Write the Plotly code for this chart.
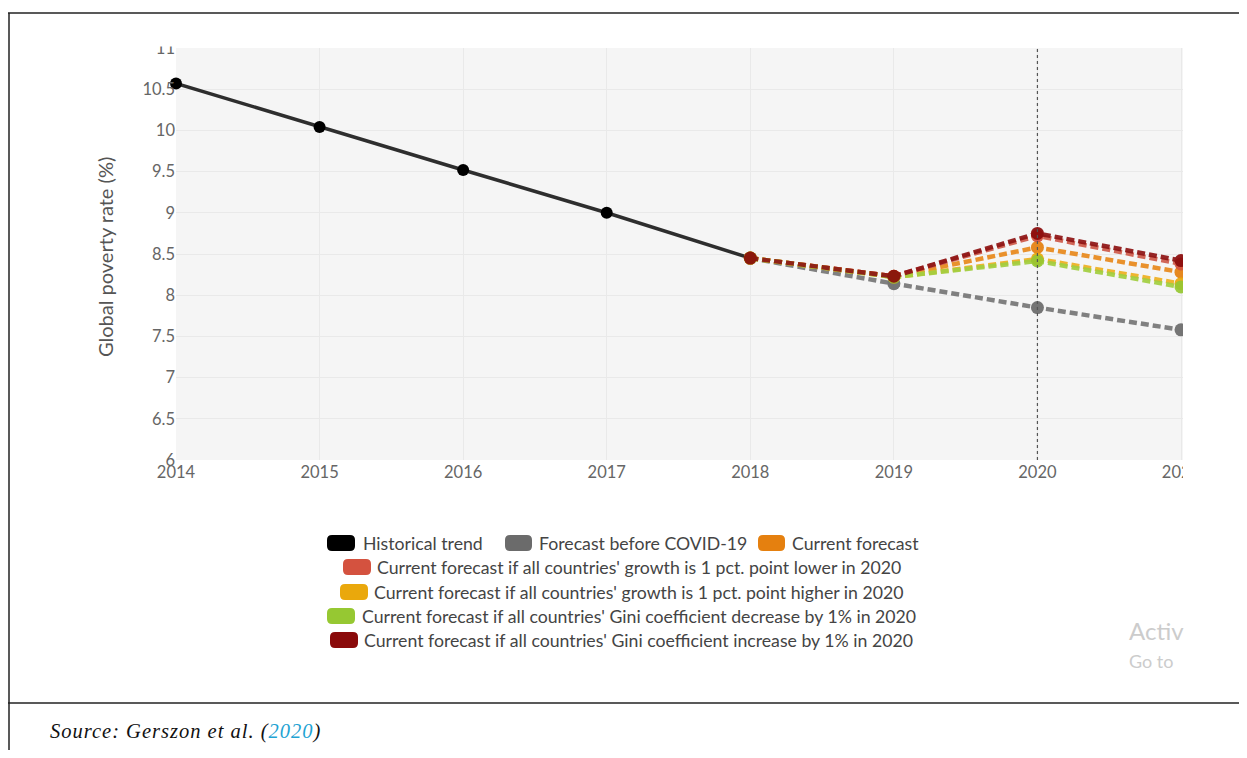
import plotly.graph_objects as go

# ---------------- data ----------------
years_hist = [2014, 2015, 2016, 2017, 2018]
hist = [10.57, 10.04, 9.52, 9.00, 8.45]

years_fc = [2018, 2019, 2020, 2021]
pre_covid = [8.45, 8.14, 7.85, 7.58]
current = [8.45, 8.23, 8.58, 8.28]
lower_growth = [8.45, 8.23, 8.72, 8.38]
higher_growth = [8.45, 8.22, 8.44, 8.14]
gini_decrease = [8.45, 8.22, 8.415, 8.10]
gini_increase = [8.45, 8.23, 8.75, 8.42]

x_ticks = [2014, 2015, 2016, 2017, 2018, 2019, 2020, 2021]
y_ticks = [6, 6.5, 7, 7.5, 8, 8.5, 9, 9.5, 10, 10.5, 11]
y_ticktext = ["6", "6.5", "7", "7.5", "8", "8.5", "9", "9.5", "10", "10.5", "11"]
marker_year = 2020

names = [
    "Historical trend",
    "Forecast before COVID-19",
    "Current forecast",
    "Current forecast if all countries' growth is 1 pct. point lower in 2020",
    "Current forecast if all countries' growth is 1 pct. point higher in 2020",
    "Current forecast if all countries' Gini coefficient decrease by 1% in 2020",
    "Current forecast if all countries' Gini coefficient increase by 1% in 2020",
]
colors = ["#000000", "#6b6b6b", "#e5800f", "#d4523f", "#eaa80c", "#96c832", "#8a0a0a"]
line_colors = ["#2e2e2e", "#777777", "#e8891c", "#cf5a4a", "#efb020", "#a2cf40", "#8e1414"]

# ---------------- geometry helpers (pixel -> paper) ----------------
W, H = 1231, 742
OFF = 8  # default body margin


def PX(X):
    return (X - OFF) / W


def PY(Y):
    return (H + OFF - Y) / H


FONT = "Lato"

fig = go.Figure()

fig.add_trace(go.Scatter(
    x=years_hist, y=hist, mode="lines+markers", name=names[0],
    line=dict(color=line_colors[0], width=3.5),
    marker=dict(color=colors[0], size=12),
    cliponaxis=False, showlegend=False,
))

series = [pre_covid, current, lower_growth, higher_growth, gini_decrease, gini_increase]
for i, s in enumerate(series, start=1):
    fig.add_trace(go.Scatter(
        x=years_fc, y=s, mode="lines+markers", name=names[i],
        line=dict(color=line_colors[i], width=4.5, dash="8px,4px"),
        marker=dict(color=colors[i], size=13),
        opacity=0.92,
        cliponaxis=False, showlegend=False,
    ))

shapes = []
annotations = []

# vertical dotted reference line
shapes.append(dict(type="line", xref="x", yref="paper", x0=marker_year, x1=marker_year,
                   y0=PY(460), y1=PY(48), line=dict(color="#555555", width=1.2, dash="dot"),
                   layer="above"))

# white masks (screenshot crop)
shapes.append(dict(type="rect", xref="paper", yref="paper", x0=PX(1183), x1=1.02,
                   y0=PY(500), y1=PY(15), fillcolor="white", line=dict(width=0), layer="above"))
shapes.append(dict(type="rect", xref="paper", yref="paper", x0=PX(120), x1=PX(175),
                   y0=PY(46.5), y1=PY(15), fillcolor="white", line=dict(width=0), layer="above"))

# frame lines
shapes.append(dict(type="line", xref="paper", yref="paper", x0=0, x1=1, y0=PY(13), y1=PY(13),
                   line=dict(color="#222222", width=1.5), layer="above"))
shapes.append(dict(type="line", xref="paper", yref="paper", x0=0, x1=1, y0=PY(703), y1=PY(703),
                   line=dict(color="#222222", width=1.5), layer="above"))
shapes.append(dict(type="line", xref="paper", yref="paper", x0=PX(9), x1=PX(9), y0=0, y1=PY(13),
                   line=dict(color="#222222", width=1.5), layer="above"))


def rrect(X0, Y0, X1, Y1, r):
    pts = []
    pts.append(f"M{PX(X0 + r)},{PY(Y0)}")
    pts.append(f"L{PX(X1 - r)},{PY(Y0)}")
    pts.append(f"Q{PX(X1)},{PY(Y0)} {PX(X1)},{PY(Y0 + r)}")
    pts.append(f"L{PX(X1)},{PY(Y1 - r)}")
    pts.append(f"Q{PX(X1)},{PY(Y1)} {PX(X1 - r)},{PY(Y1)}")
    pts.append(f"L{PX(X0 + r)},{PY(Y1)}")
    pts.append(f"Q{PX(X0)},{PY(Y1)} {PX(X0)},{PY(Y1 - r)}")
    pts.append(f"L{PX(X0)},{PY(Y0 + r)}")
    pts.append(f"Q{PX(X0)},{PY(Y0)} {PX(X0 + r)},{PY(Y0)}")
    pts.append("Z")
    return "".join(pts)


# manual legend: (swatch x0, swatch x1, text x, row y)
legend_pos = [
    (327, 355, 361, 543),
    (505, 532, 537, 543),
    (758, 785, 790, 543),
    (343, 371, 375, 567),
    (340, 368, 372, 592),
    (327, 355, 360, 616),
    (330, 358, 362, 640),
]
for i, (sx0, sx1, tx, yy) in enumerate(legend_pos):
    shapes.append(dict(type="path", xref="paper", yref="paper", path=rrect(sx0, yy - 8, sx1, yy + 8, 5),
                       fillcolor=colors[i], line=dict(width=0), layer="above"))
    annotations.append(dict(x=PX(tx), y=PY(yy + 0.5), xref="paper", yref="paper", text=names[i],
                            showarrow=False, xanchor="left", yanchor="middle",
                            font=dict(family=FONT, size=17.7, color="#444444")))

# y-axis title
annotations.append(dict(x=PX(105), y=PY(257), xref="paper", yref="paper",
                        text="Global poverty rate (%)", textangle=-90, showarrow=False,
                        xanchor="center", yanchor="middle",
                        font=dict(family=FONT, size=20, color="#555555")))

# source
annotations.append(dict(x=PX(48), y=PY(731), xref="paper", yref="paper",
                        text="<i><span style='letter-spacing:1px'>Source: Gerszon et al. (<span style='color:#1fa3d3'>2020</span>)</span></i>",
                        showarrow=False, xanchor="left", yanchor="middle",
                        font=dict(family="Liberation Serif", size=20.5, color="#111111")))

# watermark
annotations.append(dict(x=PX(1127), y=PY(630), xref="paper", yref="paper", text="Activ",
                        showarrow=False, xanchor="left", yanchor="middle",
                        font=dict(family=FONT, size=24, color="#cccccc")))
annotations.append(dict(x=PX(1127), y=PY(661), xref="paper", yref="paper", text="Go to",
                        showarrow=False, xanchor="left", yanchor="middle",
                        font=dict(family=FONT, size=18, color="#cccccc")))

px_per_year = (1181 - 176) / 7.0
x_right = 2014 + (1224 - 176) / px_per_year

fig.update_layout(
    width=W, height=H,
    margin=dict(l=0, r=0, t=0, b=0, autoexpand=False),
    paper_bgcolor="white",
    plot_bgcolor="#f5f5f5",
    showlegend=False,
    shapes=shapes,
    annotations=annotations,
    xaxis=dict(domain=[PX(176), PX(1224)], range=[2014, x_right], tickvals=x_ticks,
               ticktext=[str(v) for v in x_ticks], showgrid=True, gridcolor="#e9e9e9",
               gridwidth=1, zeroline=False, showline=False, ticks="",
               tickfont=dict(family=FONT, size=16.5, color="#666666")),
    yaxis=dict(domain=[PY(460), PY(48)], range=[6, 11], tickvals=y_ticks, ticktext=y_ticktext,
               showgrid=True, gridcolor="#e9e9e9", gridwidth=1, zeroline=False,
               showline=False, ticks="", tickfont=dict(family=FONT, size=16.5, color="#666666")),
)

fig.write_html("out.html")
